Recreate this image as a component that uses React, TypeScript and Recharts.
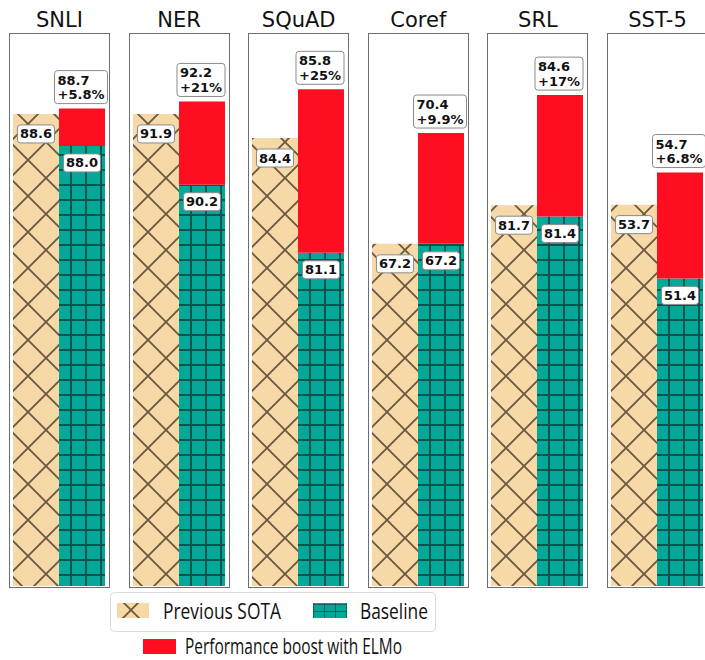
import React from 'react';
import { BarChart, Bar, XAxis, YAxis, LabelList } from 'recharts';

// tasks and scores
const tasks = ['SNLI', 'NER', 'SQuAD', 'Coref', 'SRL', 'SST-5'];
const previousSota = [88.6, 91.9, 84.4, 67.2, 81.7, 53.7];
const baseline = [88.0, 90.2, 81.1, 67.2, 81.4, 51.4];
const withElmo = [88.7, 92.2, 85.8, 70.4, 84.6, 54.7];
const boostPct = ['+5.8%', '+21%', '+25%', '+9.9%', '+17%', '+6.8%'];

// each panel has its own y range (bars start at the bottom of the frame)
const yLimits: [number, number][] = [
  [79.74, 90.1],
  [80.56, 93.82],
  [71.52, 87.39],
  [57.32, 73.26],
  [71.67, 86.21],
  [41.81, 59.02],
];

const TAN = '#f7d9a8';
const TAN_LINE = '#6a5840';
const TEAL = '#04a898';
const TEAL_LINE = '#0a5450';
const RED = '#fe0e20';

const LABEL_FONT = 'DejaVu Sans, sans-serif';
const CHAR_W: Record<string, number> = { '.': 0.38, '+': 0.838, '%': 1.002 };
const textW = (s: string, size = 13) =>
  s.split('').reduce((acc, c) => acc + (CHAR_W[c] ?? 0.696), 0) * size;

// diagonal cross hatch, drawn past the tile corners so strokes join up
const X_PATH =
  'M-4 -4 L40 40 M32 -4 L40 4 M-4 32 L4 40 M40 -4 L-4 40 M-4 4 L4 -4 M32 40 L40 32';

const ValueBox = (props: any, txt: string, dy: number) => {
  const { x, y, width } = props;
  const w = textW(txt) + 5;
  const cx = Number(x) + Number(width) / 2;
  const top = Number(y) + dy;
  return (
    <g>
      <rect x={cx - w / 2} y={top} width={w} height={18} rx={3} fill="#fff" stroke="#8a8a8a" strokeWidth={1} />
      <text x={cx} y={top + 13.5} textAnchor="middle" fontFamily={LABEL_FONT} fontWeight="bold" fontSize={13} fill="#111">
        {txt}
      </text>
    </g>
  );
};

const BoostBox = (props: any, l1: string, l2: string) => {
  const { x, y, width } = props;
  const w = Math.max(textW(l1), textW(l2)) + 6;
  const cx = Number(x) + Number(width) / 2 - 1;
  const h = 33;
  const top = Number(y) - 5 - h;
  const left = cx - w / 2;
  return (
    <g>
      <rect x={left} y={top} width={w} height={h} rx={3} fill="#fff" stroke="#8a8a8a" strokeWidth={1} />
      <text fontFamily={LABEL_FONT} fontWeight="bold" fontSize={13} fill="#111">
        <tspan x={left + 3} y={top + 14}>{l1}</tspan>
        <tspan x={left + 3} y={top + 28.5}>{l2}</tspan>
      </text>
    </g>
  );
};

const Patterns = ({ id }: { id: string }) => (
  <defs>
    <pattern id={`x-${id}`} width={36} height={36} patternUnits="userSpaceOnUse">
      <rect width={36} height={36} fill={TAN} />
      <path d={X_PATH} stroke={TAN_LINE} strokeWidth={1.8} />
    </pattern>
    <pattern id={`grid-${id}`} width={15} height={15} patternUnits="userSpaceOnUse">
      <rect width={15} height={15} fill={TEAL} />
      <path d="M0 1 L15 1 M1 0 L1 15" stroke={TEAL_LINE} strokeWidth={2} />
    </pattern>
  </defs>
);

function Panel({ i }: { i: number }) {
  const row = [
    {
      task: tasks[i],
      sota: previousSota[i],
      base: baseline[i],
      boost: +(withElmo[i] - baseline[i]).toFixed(2),
    },
  ];
  const left = 9 + i * 119.6;
  return (
    <div
      style={{
        position: 'absolute',
        left,
        top: 33,
        width: 101,
        height: 555,
        border: '1.5px solid #6e6e6e',
        boxSizing: 'border-box',
        background: '#fff',
      }}
    >
      <BarChart width={98} height={552} data={row} margin={{ top: 0, right: 0, bottom: 0, left: 0 }} barCategoryGap={3} barGap={0}>
        <Patterns id={`p${i}`} />
        <XAxis dataKey="task" hide />
        <YAxis type="number" domain={yLimits[i]} allowDataOverflow hide />
        <Bar dataKey="sota" stackId="a" fill={`url(#x-p${i})`} isAnimationActive={false}>
          <LabelList dataKey="sota" content={(p: any) => ValueBox(p, previousSota[i].toFixed(1), 11)} />
        </Bar>
        <Bar dataKey="base" stackId="s" fill={`url(#grid-p${i})`} isAnimationActive={false}>
          <LabelList dataKey="base" content={(p: any) => ValueBox(p, baseline[i].toFixed(1), 8)} />
        </Bar>
        <Bar dataKey="boost" stackId="s" fill={RED} isAnimationActive={false}>
          <LabelList dataKey="boost" content={(p: any) => BoostBox(p, withElmo[i].toFixed(1), boostPct[i])} />
        </Bar>
      </BarChart>
    </div>
  );
}

const LEGEND_FONT = '"Open Sans", sans-serif';

export default function App() {
  return (
    <div style={{ position: 'absolute', left: 0, top: 0, width: 705, height: 660, overflow: 'hidden', background: '#fff' }}>
      <svg width={705} height={660} style={{ position: 'absolute', left: 0, top: 0 }}>
        <defs>
          <pattern id="lg-x" x={113} y={592} width={36} height={36} patternUnits="userSpaceOnUse">
            <rect width={36} height={36} fill={TAN} />
            <path d={X_PATH} stroke={TAN_LINE} strokeWidth={1.8} />
          </pattern>
          <pattern id="lg-grid" x={313} y={604} width={11} height={7} patternUnits="userSpaceOnUse">
            <rect width={11} height={7} fill={TEAL} />
            <path d="M0 0 L11 0 M0 0 L0 7" stroke={TEAL_LINE} strokeWidth={1.5} />
          </pattern>
        </defs>
        {tasks.map((t, i) => (
          <text key={t} x={9 + i * 119.6 + 50.5} y={27} textAnchor="middle" fontFamily="DejaVu Sans, sans-serif" fontSize={21} fill="#111">
            {t}
          </text>
        ))}
        <rect x={110.5} y={592.5} width={325} height={39} rx={4} fill="#fff" stroke="#dadada" />
        <rect x={117} y={603} width={32} height={15} fill="url(#lg-x)" />
        <text x={163} y={618.5} fontFamily={LEGEND_FONT} fontSize={21.5} fill="#111" textLength={118} lengthAdjust="spacingAndGlyphs">
          Previous SOTA
        </text>
        <rect x={313} y={603} width={34} height={15} fill="url(#lg-grid)" />
        <text x={360} y={618.5} fontFamily={LEGEND_FONT} fontSize={21.5} fill="#111" textLength={68} lengthAdjust="spacingAndGlyphs">
          Baseline
        </text>
        <rect x={143} y={639} width={33} height={15} fill={RED} />
        <text x={185} y={653.5} fontFamily={LEGEND_FONT} fontSize={21.5} fill="#111" textLength={217} lengthAdjust="spacingAndGlyphs">
          Performance boost with ELMo
        </text>
      </svg>
      {tasks.map((t, i) => (
        <Panel key={t} i={i} />
      ))}
    </div>
  );
}
